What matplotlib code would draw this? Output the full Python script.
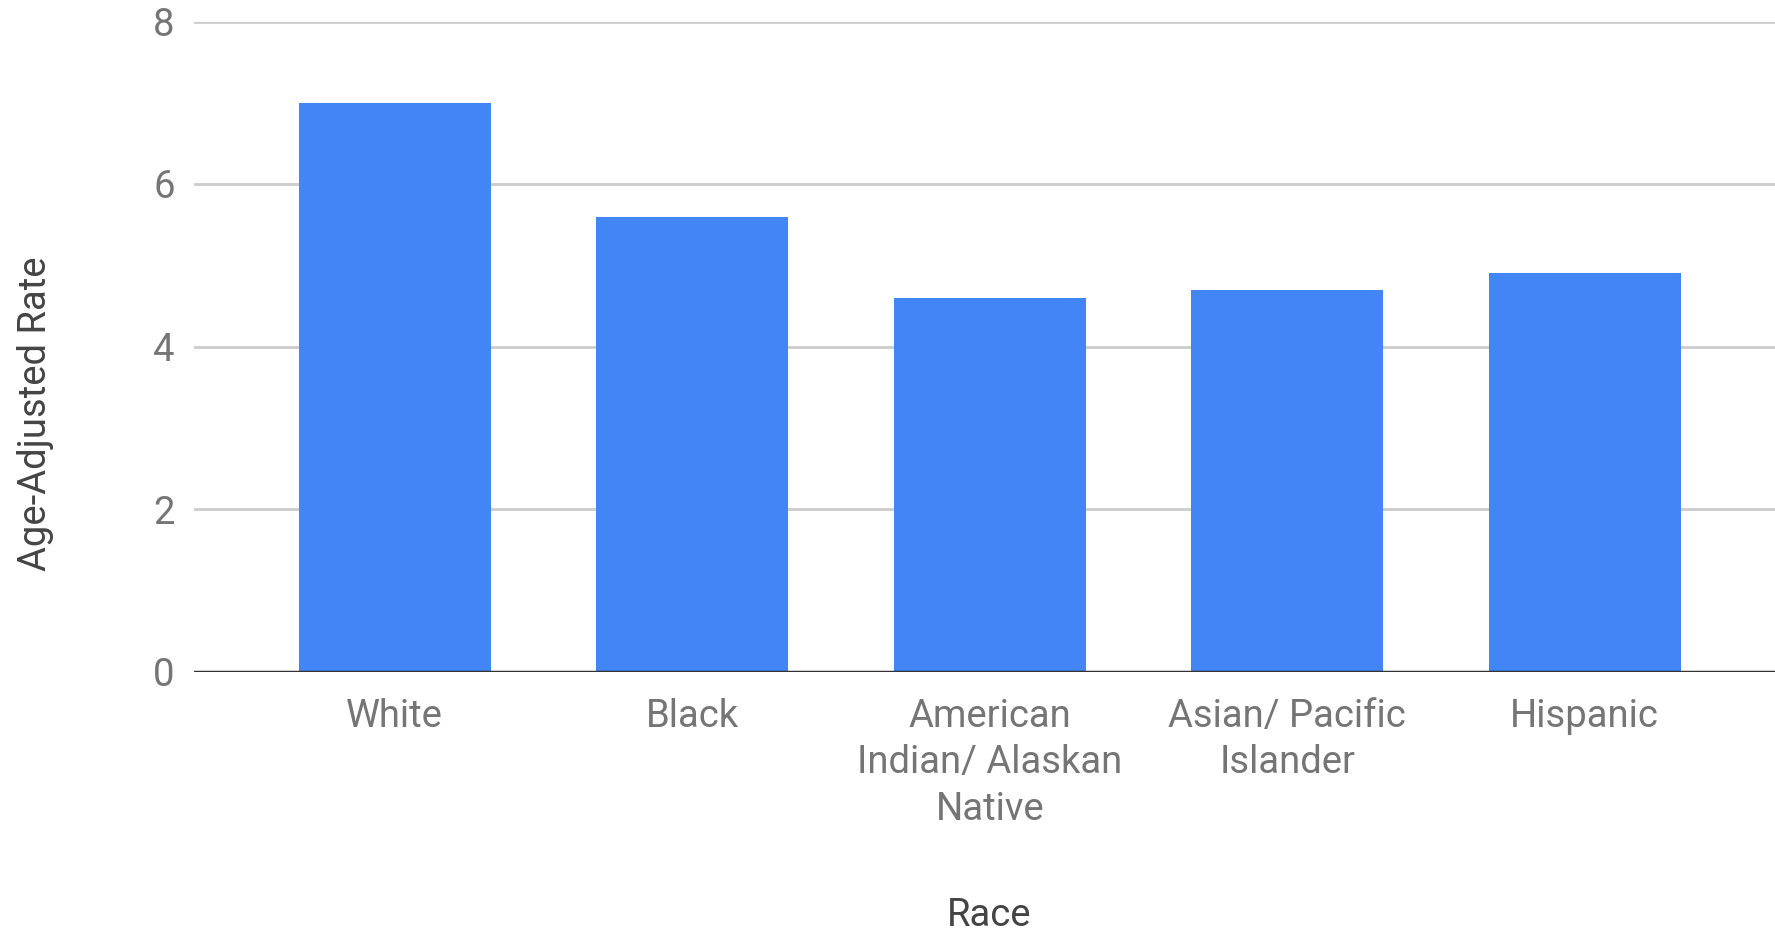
import matplotlib
matplotlib.use("Agg")
import matplotlib.pyplot as plt

plt.rcParams["font.family"] = ["Roboto", "DejaVu Sans"]

races = [
    "White",
    "Black",
    "American\nIndian/ Alaskan\nNative",
    "Asian/ Pacific\nIslander",
    "Hispanic",
]
rates = [7.0, 5.6, 4.6, 4.7, 4.9]
yticks = [0, 2, 4, 6, 8]

W, H = 1775, 934
fig = plt.figure(figsize=(W / 100, H / 100), dpi=100)
ax = fig.add_axes([194 / W, 1 - 671.5 / H, 1 - 194 / W, (671.5 - 21.5) / H])

x = list(range(len(races)))
ax.bar(x, rates, width=0.645, color="#4285f4", zorder=3)

ax.set_ylim(0, 8)
ax.set_xlim(-0.675, 4.64)
ax.set_yticks(yticks)
ax.set_yticklabels([str(t) for t in yticks])
ax.set_xticks(x)
ax.set_xticklabels(races, linespacing=1.33)

ax.grid(axis="y", color="#cccccc", linewidth=2, zorder=0)
ax.axhline(0, color="#333333", linewidth=2.5, zorder=4)
for s in ax.spines.values():
    s.set_visible(False)

ax.tick_params(axis="y", length=0, pad=14, labelsize=27.5, labelcolor="#757575")
ax.tick_params(axis="x", length=0, pad=19, labelsize=27.5, labelcolor="#757575")

fig.text(36 / W, 1 - 414 / H, "Age-Adjusted Rate", rotation=90,
         ha="center", va="center", fontsize=27.5, color="#444444")
fig.text(989 / W, 1 - 916 / H, "Race", ha="center", va="center",
         fontsize=27.5, color="#444444")

fig.savefig("out.png", dpi=100)
